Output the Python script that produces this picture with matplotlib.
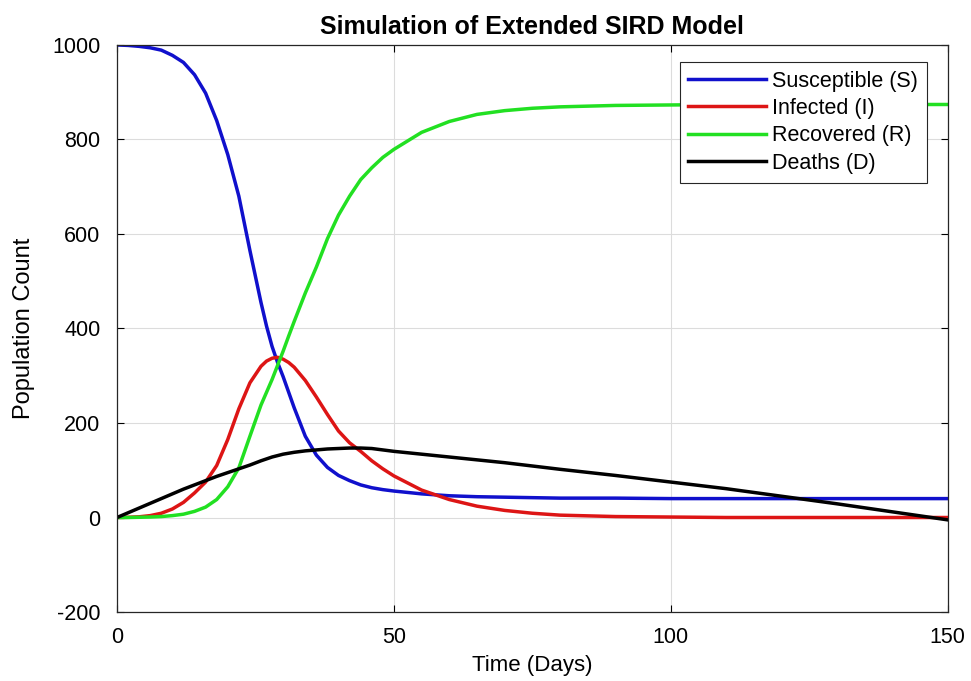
import matplotlib
matplotlib.use("Agg")
import matplotlib.pyplot as plt

plt.rcParams['font.family'] = ['Liberation Sans', 'DejaVu Sans']
plt.rcParams['axes.unicode_minus'] = False

days = [0, 2, 4, 6, 8, 10, 12, 14, 16, 18, 20, 22, 24, 26, 27, 28, 29, 30, 31, 32, 34, 36, 38,
        40, 42, 44, 46, 48, 50, 55, 60, 65, 70, 75, 80, 90, 100, 110, 120, 130, 140, 150]

susceptible = [1000, 999, 997, 994, 989, 978, 963, 937, 898, 840, 768, 680, 565, 455, 405, 362,
               328, 298, 265, 232, 172, 132, 106, 89, 78, 69, 63, 59, 56, 50, 46, 44, 43, 42,
               41, 41, 40, 40, 40, 40, 40, 40]
infected = [0, 0.5, 1.5, 4, 9, 18, 32, 52, 75, 110, 165, 230, 285, 320, 331, 337, 339, 335,
            328, 318, 290, 255, 218, 183, 158, 140, 120, 103, 88, 58, 38, 24, 15, 9, 5, 2, 1,
            0, 0, 0, 0, 0]
recovered = [0, 0, 0.5, 1, 2, 4, 7, 13, 22, 38, 65, 105, 172, 238, 265, 292, 322, 352, 384,
             415, 475, 530, 590, 640, 680, 715, 740, 762, 779, 815, 838, 853, 861, 866, 869,
             872, 873, 874, 874, 874, 874, 874]
deaths = [0, 10, 20, 30, 40, 50, 60, 69, 78, 87, 95, 103, 111, 120, 124, 128, 131, 134, 136,
          138, 141, 143, 145, 146, 147, 147, 146, 143, 140, 134, 128, 122, 116, 109, 102, 89,
          75, 61, 45, 29, 12, -5]

series = [
    ("Susceptible (S)", susceptible, "#1010cc"),
    ("Infected (I)", infected, "#dd1515"),
    ("Recovered (R)", recovered, "#22e022"),
    ("Deaths (D)", deaths, "black"),
]

fig = plt.figure(figsize=(9.71, 6.81), dpi=100)
ax = fig.add_axes([0.1205, 0.1013, 0.8555, 0.8327])

for name, values, colour in series:
    ax.plot(days, values, color=colour, linewidth=2.5, label=name)

ax.set_xlim(0, 150)
ax.set_ylim(-200, 1000)
ax.set_xticks([0, 50, 100, 150])
ax.set_yticks(range(-200, 1001, 200))
ax.grid(True, color="#dcdcdc", linewidth=0.8)
ax.set_axisbelow(True)
ax.tick_params(direction="in", top=True, right=True, labelsize=15.5, length=5, width=0.8)
ax.tick_params(axis="y", pad=12)
ax.tick_params(axis="x", pad=11)
for spine in ax.spines.values():
    spine.set_color("#262626")
    spine.set_linewidth(0.9)

ax.set_xlabel("Time (Days)", fontsize=16, labelpad=5)
ax.set_ylabel("Population Count", fontsize=17, labelpad=12)
ax.set_title("Simulation of Extended SIRD Model", fontsize=18, fontweight="bold", pad=8)

leg = ax.legend(loc="upper right", bbox_to_anchor=(0.975, 0.97), fontsize=15.5,
                handlelength=3.6, handletextpad=0.3, borderpad=0.4, labelspacing=0.3,
                fancybox=False, framealpha=1, edgecolor="#262626", borderaxespad=0)
leg.get_frame().set_linewidth(0.8)

fig.savefig("out.png", dpi=100)
